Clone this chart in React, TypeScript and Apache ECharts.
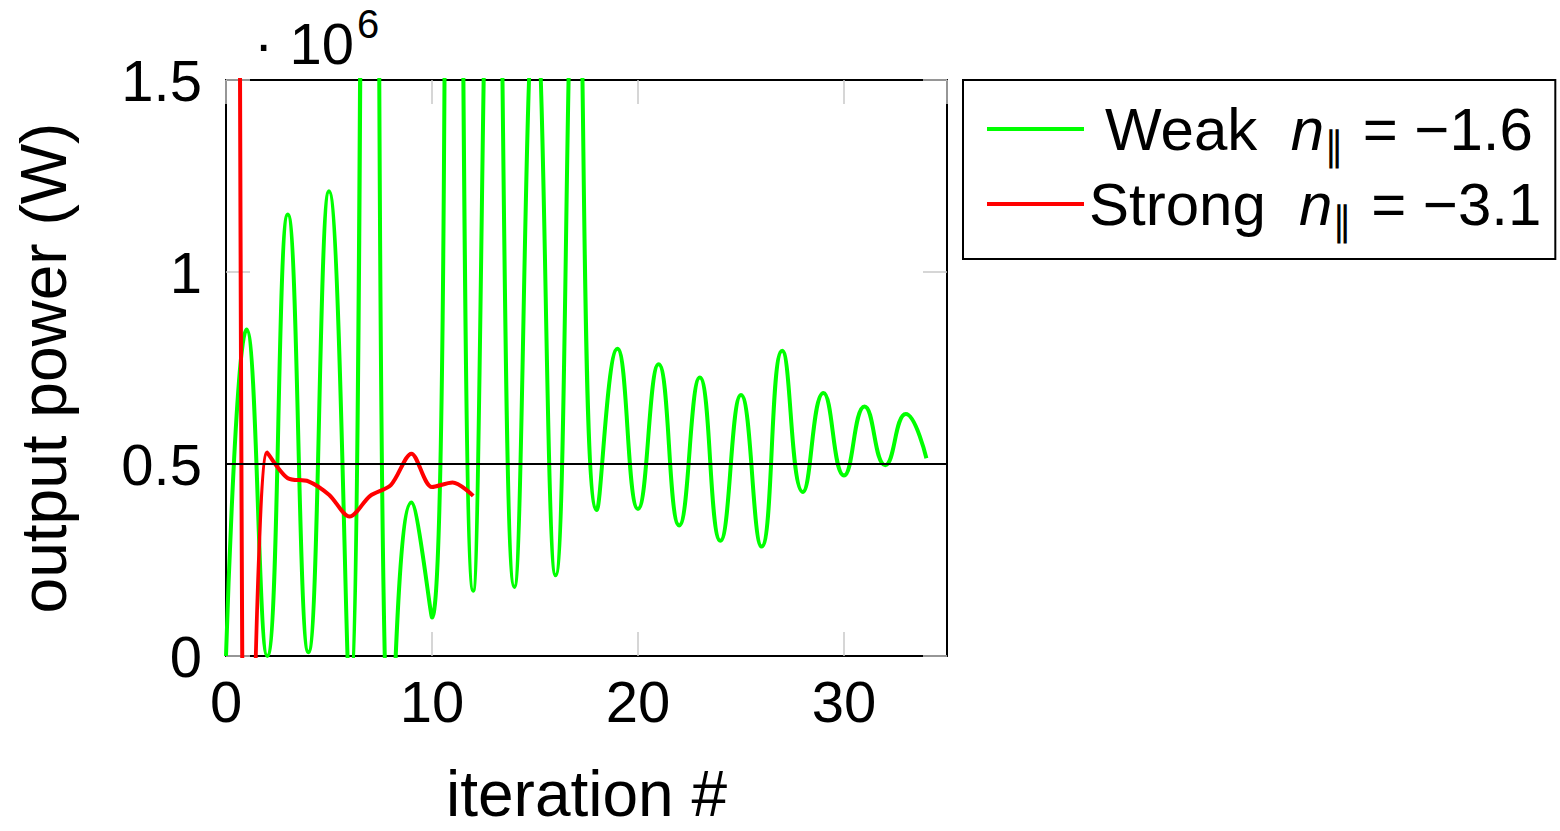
import React, { useEffect, useRef } from "react";
import * as echarts from "echarts";

// iteration numbers
const weakIter = [0, 1, 2, 3, 4, 5, 6, 7, 8, 9, 10, 11, 12, 13, 14, 15, 16, 17, 18, 19, 20, 21, 22, 23, 24, 25, 26, 27, 28, 29, 30, 31, 32, 33, 34];
// output power (W), weak absorption n_par = -1.6
const weakPower = [
  0, 0.85e6, 0.0, 1.15e6, 0.01e6, 1.21e6, -0.1e6, 6.0e6, -0.3e6, 0.4e6,
  0.1e6, 4.0e6, 0.17e6, 2.4e6, 0.18e6, 1.7e6, 0.21e6, 1.95e6, 0.38e6, 0.8e6,
  0.383e6, 0.76e6, 0.34e6, 0.725e6, 0.3e6, 0.68e6, 0.285e6, 0.795e6, 0.427e6, 0.685e6,
  0.47e6, 0.65e6, 0.497e6, 0.63e6, 0.515e6,
];
const strongIter = [0, 1, 2, 3, 4, 5, 6, 7, 8, 9, 10, 11, 12];
// output power (W), strong absorption n_par = -3.1
const strongPower = [
  25e6, -1.2e6, 0.53e6, 0.463e6, 0.455e6, 0.42e6, 0.363e6, 0.417e6, 0.445e6, 0.527e6,
  0.44e6, 0.452e6, 0.417e6,
];
const targetPower = 0.5e6;

const xTicks = [0, 10, 20, 30];
const yTicks = [0, 0.5e6, 1e6, 1.5e6];

const seriesNames = ["Weak", "Strong"];
const legendParts: Record<string, [string, string]> = {
  Weak: ["Weak", " = −1.6"],
  Strong: ["Strong", " = −3.1"],
};

const FONT = "Liberation Sans";
const FS = 58;
const NAME_FS = 64;
const LEG_FS = 60;

export default function App() {
  const ref = useRef<HTMLDivElement>(null);
  useEffect(() => {
    if (!ref.current) return;
    const chart = echarts.init(ref.current, null, { renderer: "svg" });
    const tickStyle = { inside: true, length: 24, lineStyle: { color: "#c8c8c8", width: 1.5 } };
    const frameLine = { show: true, onZero: false, lineStyle: { color: "#000", width: 2 } };
    chart.setOption({
      animation: false,
      backgroundColor: "#fff",
      textStyle: { fontFamily: FONT },
      grid: { left: 226, top: 80, width: 721, height: 587, containLabel: false },
      legend: {
        show: true,
        orient: "vertical",
        left: 963,
        top: 80,
        data: seriesNames,
        borderColor: "#000",
        borderWidth: 2,
        borderRadius: 0,
        padding: [19, 14, 18, 22],
        itemWidth: 97,
        itemHeight: 20,
        itemGap: 8,
        itemTextGap: 15,
        itemStyle: { opacity: 0 },
        lineStyle: { width: 4 },
        formatter: (name: string) => {
          const p = legendParts[name];
          const pre = name === "Weak" ? "{w|" + p[0] + "}" : "{t|" + p[0] + "}";
          return pre + "{t|  }{i|n}{s|∥}{t|" + p[1] + "}";
        },
        textStyle: {
          fontFamily: FONT,
          fontSize: LEG_FS,
          color: "#000",
          rich: {
            t: { fontFamily: FONT, fontSize: LEG_FS, color: "#000" },
            w: { fontFamily: FONT, fontSize: LEG_FS, color: "#000", padding: [0, 0, 0, 16] },
            i: { fontFamily: FONT, fontSize: LEG_FS, fontStyle: "italic", color: "#000" },
            s: { fontFamily: FONT, fontSize: 40, color: "#000", padding: [34, 2, 0, 0] },
          },
        },
      },
      xAxis: [
        {
          type: "value",
          min: 0,
          max: 35,
          interval: 10,
          position: "bottom",
          name: "iteration #",
          nameLocation: "middle",
          nameGap: 106,
          nameTextStyle: { fontFamily: FONT, fontSize: NAME_FS, color: "#000" },
          axisLine: frameLine,
          axisTick: tickStyle,
          splitLine: { show: false },
          axisLabel: {
            showMaxLabel: false,
            fontFamily: FONT,
            fontSize: FS,
            color: "#000",
            margin: 16,
            formatter: (v: number) => (xTicks.includes(v) ? String(v) : ""),
          },
        },
        {
          type: "value",
          min: 0,
          max: 35,
          interval: 10,
          position: "top",
          axisLine: frameLine,
          axisTick: tickStyle,
          splitLine: { show: false },
          axisLabel: { show: false },
        },
      ],
      yAxis: [
        {
          type: "value",
          min: 0,
          max: 1.5e6,
          interval: 0.5e6,
          position: "left",
          name: "output power (W)",
          nameLocation: "middle",
          nameGap: 150,
          nameRotate: 90,
          nameTextStyle: { fontFamily: FONT, fontSize: NAME_FS, color: "#000" },
          axisLine: frameLine,
          axisTick: tickStyle,
          splitLine: { show: false },
          axisLabel: {
            fontFamily: FONT,
            fontSize: FS,
            color: "#000",
            margin: 24,
            formatter: (v: number) => (yTicks.includes(v) ? String(v / 1e6) : ""),
          },
        },
        {
          type: "value",
          min: 0,
          max: 1.5e6,
          interval: 0.5e6,
          position: "right",
          axisLine: frameLine,
          axisTick: tickStyle,
          splitLine: { show: false },
          axisLabel: { show: false },
        },
      ],
      series: [
        {
          name: "Weak",
          type: "line",
          xAxisIndex: 0,
          yAxisIndex: 0,
          data: weakIter.map((x, i) => [x, weakPower[i]]),
          smooth: 0.5,
          showSymbol: false,
          symbol: "none",
          clip: true,
          lineStyle: { color: "#00ff00", width: 4 },
          itemStyle: { color: "#00ff00" },
          markLine: {
            silent: true,
            symbol: "none",
            label: { show: false },
            lineStyle: { color: "#000", width: 2, type: "solid" },
            data: [{ yAxis: targetPower }],
          },
          z: 2,
        },
        {
          name: "Strong",
          type: "line",
          xAxisIndex: 0,
          yAxisIndex: 0,
          data: strongIter.map((x, i) => [x, strongPower[i]]),
          smooth: 0.3,
          showSymbol: false,
          symbol: "none",
          clip: true,
          lineStyle: { color: "#ff0000", width: 4 },
          itemStyle: { color: "#ff0000" },
          z: 3,
        },
      ],
      graphic: [
        {
          type: "text",
          left: 254,
          top: 14,
          style: {
            text: "· 10",
            fontFamily: FONT,
            fontSize: FS,
            fill: "#000",
          },
        },
        {
          type: "text",
          left: 357,
          top: 4,
          style: {
            text: "6",
            fontFamily: FONT,
            fontSize: 40,
            fill: "#000",
          },
        },
      ],
    });
    return () => chart.dispose();
  }, []);
  return (
    <div
      ref={ref}
      style={{ position: "fixed", left: 0, top: 0, width: 1560, height: 831 }}
    />
  );
}
